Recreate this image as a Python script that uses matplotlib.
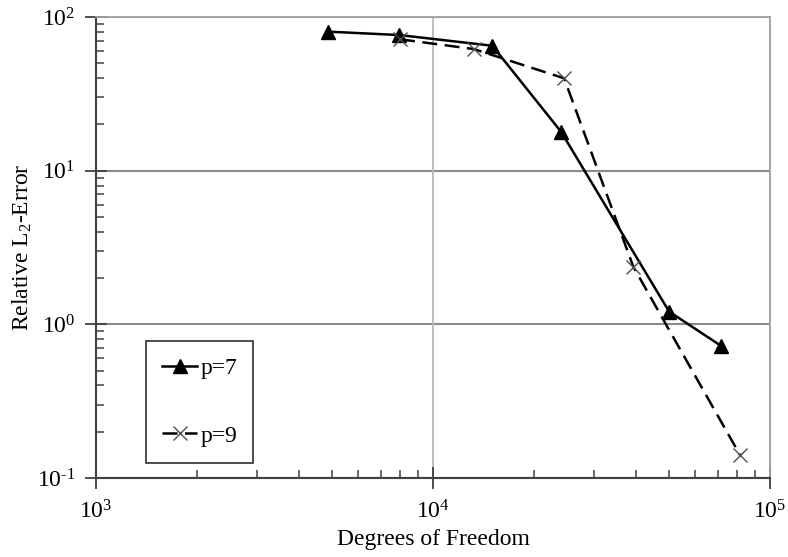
import matplotlib
matplotlib.use("Agg")
import matplotlib.pyplot as plt
import numpy as np
from matplotlib.ticker import LogLocator, FuncFormatter, NullFormatter

plt.rcParams['font.family'] = ['Liberation Serif', 'DejaVu Serif']
plt.rcParams['mathtext.fontset'] = 'custom'
plt.rcParams['mathtext.rm'] = 'Liberation Serif'
plt.rcParams['mathtext.it'] = 'Liberation Serif:italic'
plt.rcParams['axes.unicode_minus'] = False

# Data
dof_p7 = [4880, 7950, 15000, 24000, 50200, 71400]
err_p7 = [80.3, 76.3, 65.0, 17.9, 1.21, 0.727]
dof_p9 = [7980, 13200, 24500, 39300, 81500]
err_p9 = [71.6, 61.9, 39.9, 2.37, 0.141]
labels = ["p=7", "p=9"]


def pow10(v, pos):
    e = int(round(np.log10(v)))
    return "10$^{\\text{%d}}$" % e


fig = plt.figure(figsize=(7.88, 5.57), dpi=100)
ax = fig.add_axes([96/788, 1-478/557, 674/788, 461/557])

ax.set_xscale('log')
ax.set_yscale('log')
ax.set_xlim(1e3, 1e5)
ax.set_ylim(1e-1, 1e2)

# grid
for yv in [1e-1, 1e0, 1e1, 1e2]:
    ax.axhline(yv, color='#8a8a8a', lw=1.5, zorder=1)
for xv in [1e4, 1e5]:
    ax.axvline(xv, color='#b8b8b8', lw=1.3, zorder=1)

ax.plot(dof_p7, err_p7, color='black', lw=1.8, marker='^', markersize=9.5,
        label=labels[0], zorder=3)
ax.plot(dof_p9, err_p9, color='black', lw=1.8, dashes=(6, 3), marker='x',
        markersize=9.5, markeredgewidth=1.0, markeredgecolor='#505050',
        label=labels[1], zorder=3)

for side in ['top', 'right']:
    ax.spines[side].set_color('#a0a0a0')
    ax.spines[side].set_linewidth(1.3)
for side in ['left', 'bottom']:
    ax.spines[side].set_color('#404040')
    ax.spines[side].set_linewidth(1.5)

ax.xaxis.set_major_locator(LogLocator(base=10, numticks=10))
ax.yaxis.set_major_locator(LogLocator(base=10, numticks=10))
ax.xaxis.set_minor_locator(LogLocator(base=10, subs=range(2, 10), numticks=20))
ax.yaxis.set_minor_locator(LogLocator(base=10, subs=range(2, 10), numticks=20))
ax.xaxis.set_major_formatter(FuncFormatter(pow10))
ax.yaxis.set_major_formatter(FuncFormatter(pow10))
ax.xaxis.set_minor_formatter(NullFormatter())
ax.yaxis.set_minor_formatter(NullFormatter())

ax.tick_params(which='major', direction='inout', length=16, width=1.3,
               color='#404040', labelsize=17, top=False, right=False)
ax.tick_params(which='minor', direction='in', length=6, width=1.1,
               color='#404040', top=False, right=False)
ax.tick_params(axis='x', which='major', pad=8)
ax.tick_params(axis='y', which='major', pad=7)

ax.set_xlabel('Degrees of Freedom', fontsize=17, labelpad=4)
ax.set_ylabel('Relative L$_2$-Error', fontsize=17, labelpad=2)

leg = ax.legend(loc='lower left', bbox_to_anchor=(0.074, 0.032),
                borderaxespad=0, fontsize=17, frameon=True, fancybox=False,
                edgecolor='#303030', framealpha=1, borderpad=0.7,
                labelspacing=1.95, handlelength=1.45, handletextpad=0.15)
leg.get_frame().set_linewidth(1.2)

fig.savefig('out.png', dpi=100)
